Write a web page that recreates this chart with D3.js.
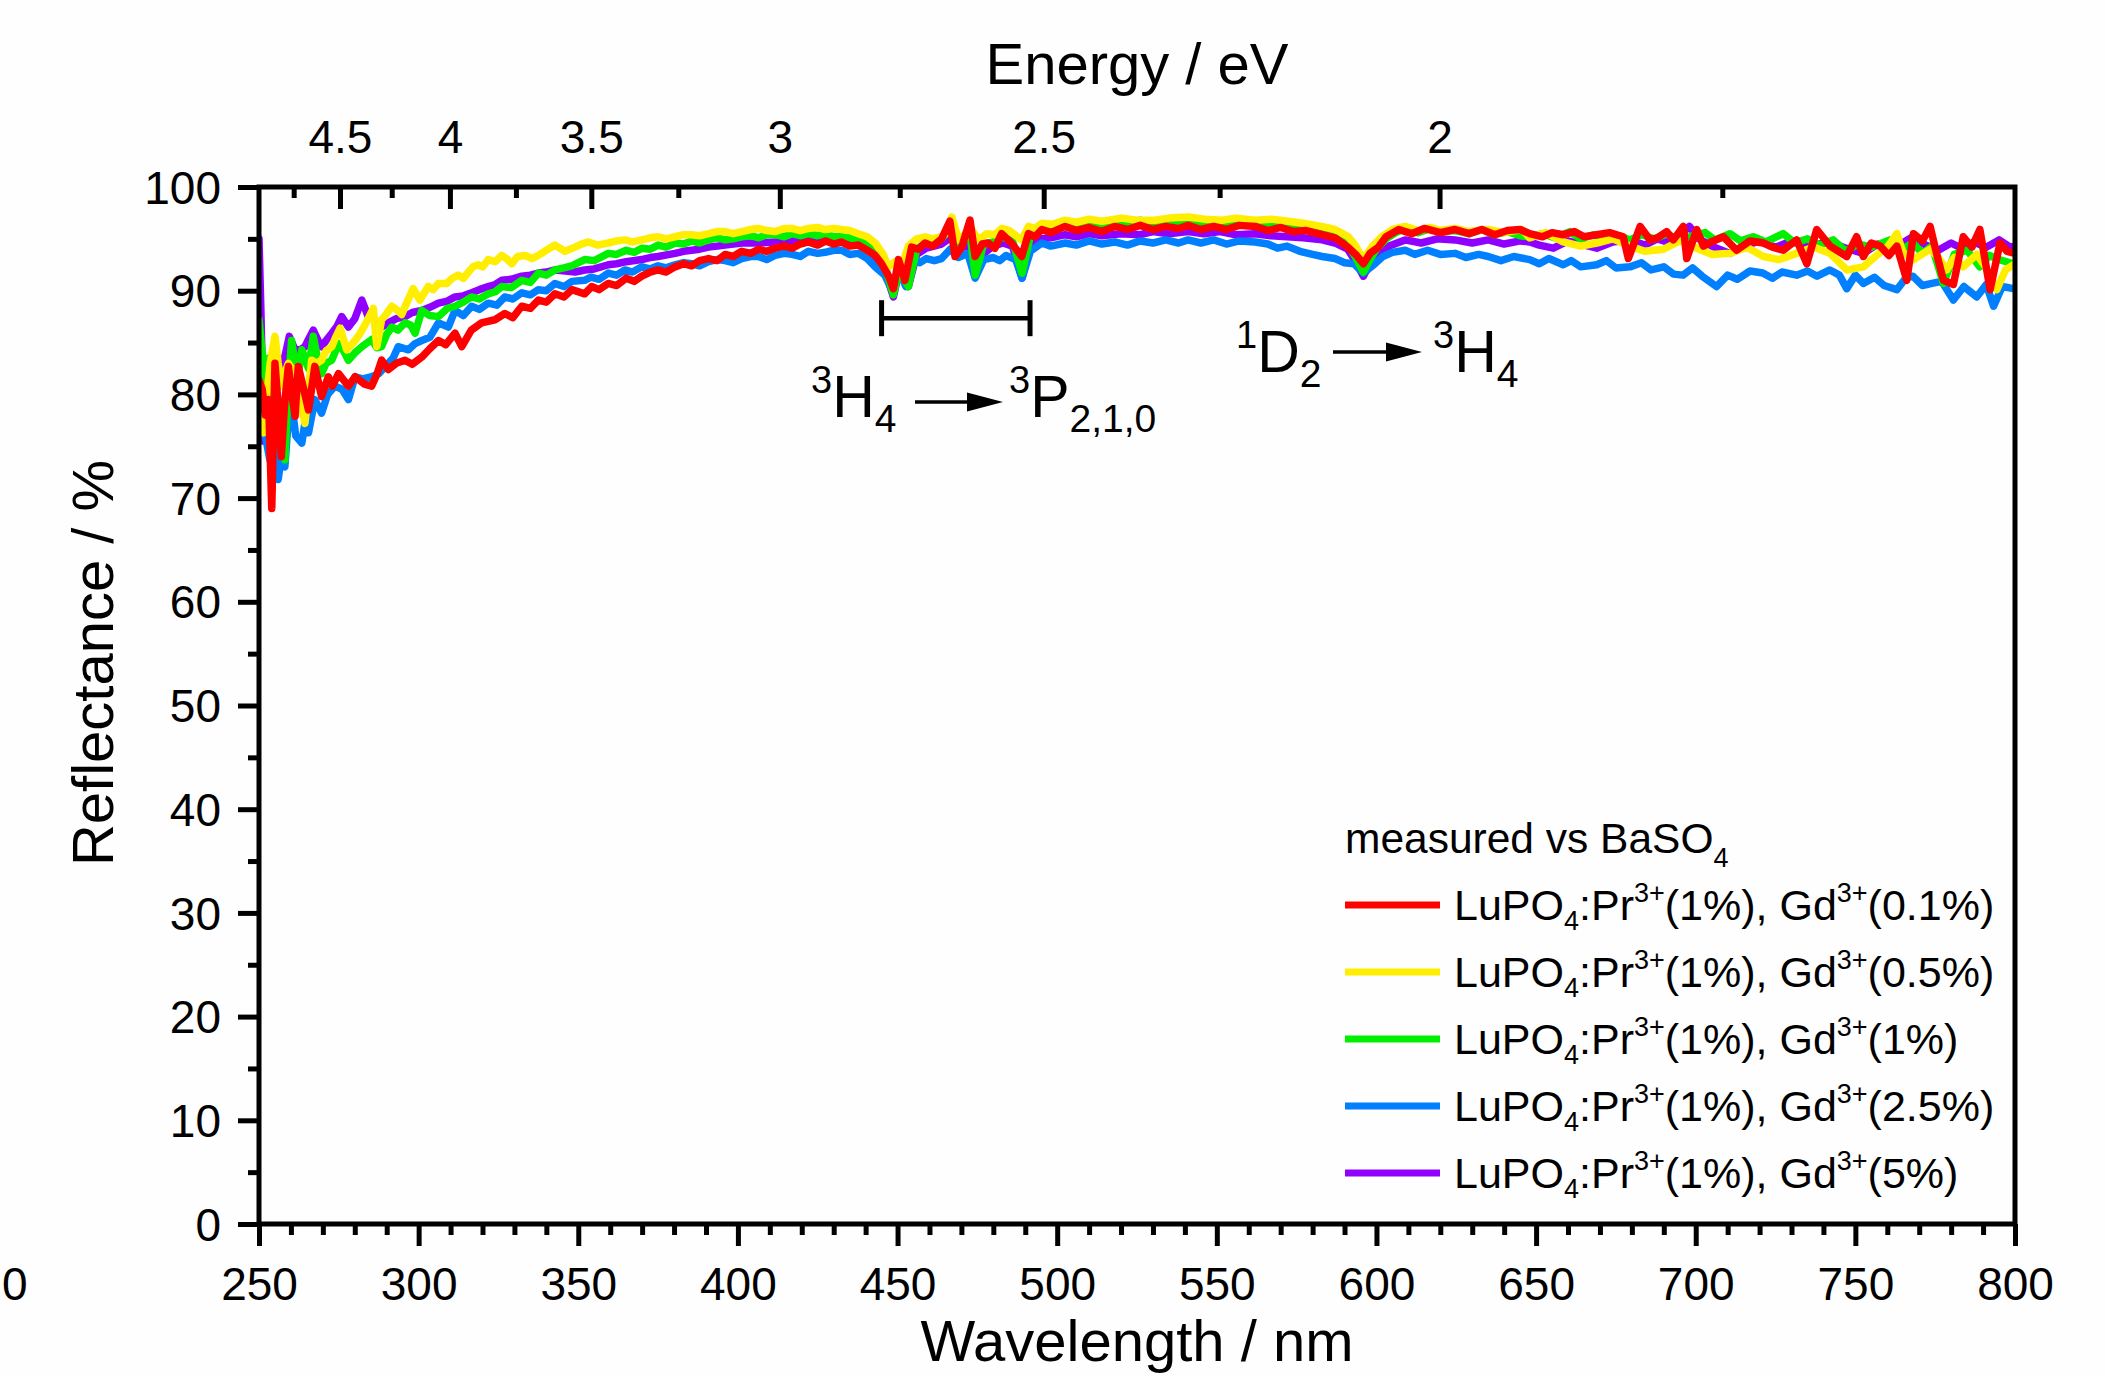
<!DOCTYPE html>
<html lang="en">
<head>
<meta charset="UTF-8">
<title>Reflectance</title>
<script src="https://cdn.jsdelivr.net/npm/d3@7"></script>
<style>
  body { margin: 0; background: #fefefe; }
  svg { display: block; font-family: "Liberation Sans", Arial, sans-serif; }
</style>
</head>
<body>
<script>
// wavelength (nm) / reflectance (%) pairs
const red = [[250,81.4],[251,80.5],[252,78],[253,79.5],[254,69],[255,83],[256,79],[257,74],[258,79],[259.2,82.7],[260.3,80],[261.3,77.9],[262.3,82.7],[264,80.5],[265.5,78.5],[267.5,82.7],[269.6,79.8],[271.7,81.7],[273,80.8],[274.9,82],[278,80.8],[280.1,81.7],[283,81],[285.3,80.8],[287,82],[288.4,83.3],[290.5,82.4],[293,83],[295.7,83.3],[298,82.9],[301,83.6],[303.5,84.4],[306.2,85.2],[308.5,84.8],[311.4,85.9],[313.5,84.6],[316.5,86.2],[319.7,86.9],[323.9,87.2],[327,87.8],[329.5,87.4],[332.3,88.5],[335,88.3],[337.5,89.1],[340,88.9],[342.7,89.7],[345.5,89.4],[348,90.1],[352,89.7],[354.2,90.4],[356.5,90.1],[359.4,90.7],[362,90.5],[365,91.2],[367.5,90.9],[369.9,91.4],[372.5,91.8],[375,92],[377.5,91.8],[380.3,92.3],[383,92.6],[385.5,92.4],[388,92.9],[390.8,93.1],[393.5,92.9],[396,93.5],[398.5,93.3],[401.2,93.8],[404,93.6],[406.5,94],[409,93.8],[411.6,94.1],[414.5,94.3],[417,94.1],[419.5,94.5],[422.1,94.7],[425,94.4],[427.5,94.8],[430,94.5],[432.5,94.7],[435,94.3],[437.7,94.4],[440.5,93.9],[443,93.4],[445,92.6],[447.2,91.4],[448.7,90.2],[450.3,93],[452.3,91],[454.4,94.2],[456.5,94],[458.6,94.6],[461,94.3],[463.8,95],[466.4,96.7],[468,93.3],[470.1,94.2],[472.7,96.8],[474.3,93.3],[476.5,94.5],[478.4,94.6],[480.5,94.1],[482.6,95.5],[485.7,94.6],[488.9,93.3],[491,95.5],[493,95.2],[495.2,95.9],[498,95.6],[502.5,96.2],[506,95.8],[510,96.1],[514,95.7],[518,96.2],[522,95.9],[526,96.3],[530,95.9],[534,96.2],[538,96],[541,96.3],[545,95.9],[549,96.2],[553,95.9],[557,96.3],[562,96.2],[566,95.8],[570,96.1],[574,95.7],[578,95.8],[583,95.4],[587,95.1],[591,94.2],[593.5,93.5],[595.9,92.6],[598,93.6],[600.6,94.2],[603,95.2],[607,95.9],[611,95.5],[615,96],[620,95.6],[624.6,95.9],[629,95.5],[633,95.9],[637,95.4],[641,95.8],[645,95.9],[648,95.5],[652,95.2],[655,95.6],[658.5,95.4],[662,95.7],[665,95.2],[669,95.4],[673,95.6],[677.3,95.2],[678.9,93.1],[682.6,96.2],[685.7,94.9],[688,95.1],[690.9,95.7],[693,94.9],[696.1,96.2],[697.2,93.1],[700.3,95.9],[702.4,94.3],[705.5,94.8],[708.7,95.2],[712.8,93.9],[717,94.8],[721.2,94.6],[724,94.2],[727.4,93.9],[731.6,94.9],[734.8,92.6],[737.9,95.9],[742.1,94.3],[747.3,93.3],[750.4,95.2],[752.5,93.3],[755,94.6],[757.8,94.3],[760.5,93.4],[763,94.3],[766.1,91],[768.2,95.5],[771,94.8],[773.4,96.2],[775.5,93.5],[777.6,91],[780.7,90.6],[783.8,95.2],[786.5,94.2],[789,95.9],[792.2,90.1],[795.3,94.6],[797.5,93.8],[800,93.6]];

const yellow = [[250,77],[251.4,76.3],[252.5,80],[253.5,83],[255,85.6],[256,83],[257.1,80.8],[258,82],[259.2,83],[260.3,82.5],[261.3,82],[262.5,80],[264.4,77.2],[265.5,80.5],[266.5,83.3],[268,83],[269.6,83.3],[271,84.2],[272.8,84.6],[274,85.5],[275.4,86.4],[277.5,84.3],[280.1,85.2],[281.5,85.8],[283.2,86.7],[285.8,88.3],[286.9,84.6],[288.4,87.2],[290,87.8],[291.6,88.5],[293,88.2],[294.7,87.7],[296.5,89],[298.3,90.2],[300.4,89.1],[303,90.4],[304.5,90.1],[306.2,90.7],[308.8,90.7],[310.5,91.2],[312.4,91.5],[314,91.2],[315.6,91.8],[317,92.3],[318.7,92.5],[320,92.3],[321.8,93],[324,92.8],[326,93.4],[327.5,93.1],[329.2,92.6],[331,93.3],[333.3,93.4],[335.5,93.1],[337.5,93.4],[340,93.9],[342.7,94.4],[345.8,93.8],[349,94.2],[351,94.5],[353.2,94.7],[356,94.4],[359.4,94.6],[362,94.8],[364.6,94.9],[367,94.7],[369.9,94.9],[372.5,95.1],[375.1,95.2],[377.5,95],[380.3,95.2],[383,95.4],[385.5,95.4],[388,95.3],[390.8,95.5],[393.5,95.7],[396,95.7],[398.5,95.5],[401.2,95.7],[404,95.9],[406.4,96],[409,95.8],[411.6,95.7],[414.5,96],[416.9,96],[419.5,95.8],[422.1,96],[425,96.1],[427.3,95.9],[430,96],[432.5,95.9],[435,95.8],[437.7,95.5],[440.5,95.2],[443,94.6],[445.5,93.5],[447.1,92.3],[449.2,92.8],[451.3,92.3],[453.4,94.3],[456,95],[458.6,95.2],[461,95],[463.8,95.2],[465.5,95.6],[467,97.1],[469.1,94.9],[471,95.4],[473.2,95.9],[475.3,94.9],[478,95.5],[480.5,95.4],[482.6,96],[485,95.8],[488.9,94.9],[491,96.2],[493,96],[495.2,96.5],[498.5,96.4],[502.5,96.8],[506,96.6],[510,96.9],[514,96.7],[520.2,97],[525,96.8],[530.6,96.8],[535,97],[541.1,97.1],[546,96.9],[551.5,96.8],[556,97],[562,96.8],[567,96.9],[572.4,96.7],[577,96.5],[582.8,96.2],[587,95.9],[591.2,95.2],[593.5,94.3],[595.9,93],[598.5,94.2],[601.6,95.2],[605,95.9],[609,96.2],[613,95.8],[617,96.1],[620,95.8],[624.6,96],[629,95.7],[635,95.9],[640,95.6],[645.5,95.9],[648,95.1],[653,95.6],[658.5,94.7],[664,94.3],[669,94.6],[674,95],[679.4,94.3],[684,93.8],[689.9,94],[695,94.8],[700.3,94.1],[705,93.5],[710.7,93.6],[716,94.2],[721.2,93.3],[726,93],[731.6,93.6],[737,94.2],[742.1,93.6],[747.3,92],[752.5,92.3],[757,93.5],[760,94.2],[763,95.5],[765,93.6],[768.2,93],[773.4,94],[776,93.2],[778.6,92],[781,93.2],[783.8,92.3],[788,93.5],[791,92.2],[794.3,90.1],[797,92],[799.5,92.5]];

const green = [[250,87.2],[251,84],[252,79],[253,83.5],[254,78],[255,80.5],[256,77],[257,79],[258.1,73.7],[259,80],[260.2,85.2],[261.3,83],[262.3,82],[263.4,84.3],[264.4,83.5],[265.5,82.5],[267,85.6],[268.5,83.2],[269.6,82],[271,83],[272.8,83.3],[274.9,84.9],[276.5,84.2],[278,83.3],[280,84],[282.2,84.6],[285.3,85.3],[286.9,84.5],[288.4,84.6],[290,85.8],[291.6,86.5],[293.5,86.2],[295.7,86.9],[297.5,86.7],[298.9,85.9],[301,88.1],[303.5,87.6],[306.2,87.5],[309,88.3],[311.4,88.5],[314,88.9],[316.6,89.4],[319,89.2],[321.8,89.7],[324,89.9],[326,90.4],[329,90.3],[332.3,91],[335,90.8],[337.5,91.7],[340,91.5],[342.7,92],[345.5,92.2],[348,92.4],[352,93],[355,92.9],[359.4,93.6],[362,93.5],[365,93.9],[367.5,93.7],[369.9,94.1],[372.5,94],[375,94.4],[377.5,94.2],[380.3,94.6],[383,94.5],[385.5,94.8],[388,94.6],[390.8,94.9],[393.5,95.1],[396,94.9],[398.5,95],[401.2,95.2],[404,95.3],[406.5,95.1],[409,95.4],[411.6,95.4],[414.5,95.2],[417,95.5],[419.5,95.3],[422.1,95.5],[425,95.3],[427.5,95.5],[430,95.2],[432.5,95.2],[435,95.1],[437.7,94.9],[440.5,94.6],[443,94],[446,92.5],[448.7,89.6],[450.5,92],[453.4,90.4],[456,94],[459,94.7],[461,94.5],[463.8,95],[467,96.2],[469,94],[472.5,96],[474.3,91.5],[477,94.5],[480,94.7],[482.6,95.2],[486,94.8],[489,91.7],[491.6,95.3],[495.2,95.9],[498,95.7],[502.5,96.2],[506,96.1],[510,96.5],[514,96.3],[518,96.6],[522,96.4],[526,96.8],[530,96.5],[534,96.9],[538,96.7],[541,97],[545,96.6],[549,96.8],[553,96.5],[557,96.7],[562,96.5],[566,96.2],[570,96.4],[574,96.1],[578,95.9],[583,95.5],[587,95.3],[591,94.5],[593.5,93.2],[595.9,91.8],[598,93],[600,94],[603,95],[606,95.6],[609,96],[613,95.6],[617,96],[620,95.7],[624.6,95.8],[629,95.5],[633,95.9],[637,95.4],[641,95.7],[645,95.3],[648,95.2],[652,95.5],[656,95.1],[660.6,95.7],[664,95],[668,95.4],[672,94.9],[676,95.3],[679.4,94.9],[683,95.4],[687,95],[691,95.5],[695,94.8],[699,95.3],[703,95.6],[706,94.9],[710.7,95.5],[714,94.8],[718,95.2],[722,94.7],[727.4,95.5],[731,94.6],[735,95],[739,94.4],[743,94.9],[747,93.8],[751,94.5],[755,94.2],[760.8,94.9],[764,93.9],[768,94.6],[771,93.6],[774,94.3],[777.6,90.7],[781,93.5],[785,93.9],[789,92.3],[792,93.4],[795,93],[799.5,92.6]];

const blue = [[250,78],[251,78.2],[252,76],[253.4,73.7],[254.5,76.5],[256,71.8],[257,74],[258.1,73],[259.5,79],[260.5,78.5],[261.5,76],[263.4,75.3],[264.5,77.5],[265.5,76.3],[267.5,79.5],[269.6,78.2],[271.5,80],[273.8,80.8],[276,80.5],[278,79.5],[280.1,81.7],[282.5,81.5],[285.3,81.7],[287.5,82],[290.5,83],[292,83.5],[293.6,84.6],[296.8,84.3],[298.9,84.9],[301,85.2],[303.5,85.5],[306.2,86.9],[309.3,86.5],[311.4,88.1],[314,87.6],[316.6,88.5],[319,88.2],[321.8,88.8],[324.5,88.6],[327,89.4],[329.5,89.2],[332.3,89.8],[335,89.6],[337.5,90.1],[340,90],[342.7,90.7],[345.5,90.4],[348,90.9],[352,91],[354,91.3],[356.5,91.1],[359.4,91.7],[362,91.5],[364.6,92],[367,91.8],[369.9,92.3],[372.5,92.1],[375,92.4],[377.5,92.2],[380.3,92.5],[383,92.7],[385.5,92.6],[388,92.4],[390.8,92.8],[393.5,93],[396,92.9],[398.5,92.7],[401.2,93.1],[404,93.3],[406.4,93.3],[409,93],[411.6,93.4],[414.5,93.6],[417,93.5],[419.5,93.3],[422.1,93.8],[425,93.6],[427.3,93.7],[430,93.9],[432.5,93.9],[435,93.5],[437.7,93.6],[440.5,93.1],[443,92.3],[446,91.5],[448.2,90.1],[450.3,92],[452.6,90.4],[455.3,92.9],[457,92.7],[459,93.1],[461.5,92.9],[463.8,93.1],[466.5,94],[469,93.2],[472,93.6],[474.3,91.2],[477,93],[480,93.2],[482,92.9],[484,93.4],[487,93],[489,91.2],[491.6,93.8],[495.2,94.6],[498,94.3],[502.5,94.6],[506,94.4],[510,94.8],[514,94.5],[518,94.7],[522,94.4],[526,94.8],[530,94.6],[534,94.9],[538,94.6],[541,94.9],[545,94.6],[549,94.9],[553,94.5],[557,94.8],[562,94.7],[566,94.5],[569,94.1],[572,94.3],[576,93.8],[580,93.5],[583,93.3],[587,93.1],[590,92.7],[593,92.6],[595.9,91.7],[599.5,92.6],[602,93.3],[605,93.7],[609,93.9],[612,93.5],[616,93.9],[620,93.5],[624.6,93.6],[628,93.2],[632,93.5],[635,93.3],[639,92.9],[643,93.3],[648,93],[651,92.6],[654,93.1],[658.5,92.5],[661,92.9],[664,92.3],[669,92.5],[672,92.9],[675,92.2],[679.4,92.3],[683,92.7],[686,92],[690,92.3],[693,91.6],[696,91.5],[699,92.2],[702,91.4],[706.5,90.4],[710,91.5],[713,91.1],[717,91.9],[721,91.7],[724,91.2],[727,91.8],[731.6,91.5],[735,91.9],[738,91.4],[742,92],[745,91.5],[747.3,90.2],[750,91.5],[752.5,90.7],[756,91.3],[759,90.5],[763,90.1],[766,91.3],[768,91.4],[771,90.5],[774,90.7],[777,90.9],[780.7,89.1],[784,90.4],[786,89.9],[788,89.4],[791,90.6],[793.3,88.5],[796,90.4],[799.5,90.2]];

const purple = [[250,95],[250.6,88],[251.5,75.5],[252.5,78],[253.5,81],[255,84.5],[256.5,82],[258,83.5],[259.5,85.6],[261,84.5],[262.3,84.2],[264.4,84.6],[265.5,85.3],[267,86.2],[268.5,85.2],[269.6,84.6],[271,85.2],[272.8,85.9],[274.5,86.6],[275.9,87.5],[278,86.5],[280,87.3],[282.2,89.1],[284.2,87.5],[286,87.2],[288.4,86.5],[290.5,86.9],[293,87.3],[295.7,87.5],[298,87.9],[301,88.1],[303.5,88.4],[306.2,88.8],[309,89],[311.4,89.4],[314,89.5],[316.6,89.8],[319,90.1],[321.8,90.4],[324,90.6],[326,91],[329,91.1],[332.3,91.4],[335,91.5],[337.5,91.7],[340,91.8],[342.7,92],[346,91.9],[349,91.8],[352,92],[355,92.1],[359.4,92.5],[362,92.6],[365,92.8],[369.9,93],[372.5,93.2],[375,93.3],[380.3,93.6],[383,93.8],[385.5,93.9],[388,94],[390.8,94.2],[393.5,94.3],[396,94.4],[401.2,94.6],[406,94.6],[411.6,94.7],[416,94.8],[422.1,94.9],[427,94.8],[432.5,94.9],[437.7,94.6],[440.5,94.2],[443,93.3],[446,92],[448.7,89.4],[450.5,92],[453.4,90.4],[456,93.5],[459,94.1],[463.8,94.5],[467,95.2],[469,93.8],[472,94.6],[474.3,91.4],[477,93.6],[480,94.3],[483,94.6],[486,94.3],[489,91.2],[491.6,94.6],[495.2,95],[498,95.1],[502.5,95.4],[506,95.2],[510,95.5],[514,95.3],[520,95.5],[526,95.4],[530,95.7],[535,95.5],[541,95.7],[546,95.5],[551,95.7],[556,95.4],[562,95.5],[567,95.3],[572,95.2],[577,95.1],[583,94.9],[587,94.6],[591,94],[593.5,92.8],[595.9,91.4],[598,92.6],[600,93.5],[604,94.3],[609,94.9],[614,94.6],[619,95],[624.6,94.9],[630,94.6],[635,94.9],[640,94.5],[645,94.8],[648,94.7],[651,94.4],[655.4,94.1],[660,94.8],[664,94.5],[669,94.1],[674,94.7],[679.4,94.9],[684,94.4],[688,95],[692,94.6],[695,95.3],[698,96.2],[701,95],[705,94.3],[710.7,93.6],[715,94.3],[720,94.8],[725,94.2],[730,94.8],[735,94.3],[742,94.7],[747,94.1],[752.5,93.6],[757,94.5],[762,94.1],[768,95.2],[772,94.4],[776,93.9],[780,94.6],[783.8,94],[787,94.7],[791,94.2],[795,94.9],[798.5,94.2],[800,94.3]];

const seriesNames = ["0.1%", "0.5%", "1%", "2.5%", "5%"];
const seriesColors = ["#ff0000", "#ffee00", "#00f000", "#0080ff", "#8f00ff"];
const seriesData = [red, yellow, green, blue, purple];

const xTicks = [250, 300, 350, 400, 450, 500, 550, 600, 650, 700, 750, 800];
const yTicks = [0, 10, 20, 30, 40, 50, 60, 70, 80, 90, 100];
const eTicks = [4.5, 4, 3.5, 3, 2.5, 2];
const eMinor = [4.75, 4.25, 3.75, 3.25, 2.75, 2.25, 1.75];
const hc = 1239.84; // eV nm

const W = 2105, H = 1376;
const pL = 259, pR = 2015, pT = 187, pB = 1224;

const svg = d3.select("body").append("svg")
    .attr("width", W).attr("height", H)
    .style("background", "#fefefe");

const x = d3.scaleLinear().domain([250, 800]).range([pL, pR]);
const y = d3.scaleLinear().domain([0, 100]).range([pB, pT]);

svg.append("clipPath").attr("id", "plot")
  .append("rect").attr("x", pL).attr("y", pT)
  .attr("width", pR - pL).attr("height", pB - pT);

// data lines, red drawn last so it sits on top
const line = d3.line().x(d => x(d[0])).y(d => y(d[1]));
const order = [4, 3, 2, 1, 0];
svg.append("g").attr("clip-path", "url(#plot)")
  .selectAll("path").data(order).join("path")
    .attr("d", i => line(seriesData[i]))
    .attr("fill", "none")
    .attr("stroke", i => seriesColors[i])
    .attr("stroke-width", 7.5)
    .attr("stroke-linejoin", "round")
    .attr("stroke-linecap", "round");

// bottom axis
const gx = svg.append("g").attr("transform", `translate(0,${pB})`)
  .call(d3.axisBottom(x).tickValues(xTicks).tickSize(22).tickFormat(d3.format("d")));
gx.select(".domain").remove();
gx.selectAll("line").attr("stroke", "#000").attr("stroke-width", 5);
gx.selectAll("text").attr("y", 76).attr("dy", 0)
  .attr("font-size", 46).attr("fill", "#000");
gx.attr("font-family", null).attr("font-size", null);
const gxm = svg.append("g").attr("transform", `translate(0,${pB})`)
  .call(d3.axisBottom(x).tickValues(d3.range(260, 800, 10).filter(v => v % 50)).tickSize(11).tickFormat(""));
gxm.select(".domain").remove();
gxm.selectAll("line").attr("stroke", "#000").attr("stroke-width", 5);

// stray label at the far left of the tick row
svg.append("text").attr("x", 2).attr("y", 1300)
  .attr("font-size", 46).text("0");

// left axis
const gy = svg.append("g").attr("transform", `translate(${pL},0)`)
  .call(d3.axisLeft(y).tickValues(yTicks).tickSize(21));
gy.select(".domain").remove();
gy.selectAll("line").attr("stroke", "#000").attr("stroke-width", 5);
gy.selectAll("text").attr("x", -38).attr("dy", "0.35em")
  .attr("font-size", 46).attr("fill", "#000");
gy.attr("font-family", null).attr("font-size", null);
const gym = svg.append("g").attr("transform", `translate(${pL},0)`)
  .call(d3.axisLeft(y).tickValues(d3.range(5, 100, 10)).tickSize(11).tickFormat(""));
gym.select(".domain").remove();
gym.selectAll("line").attr("stroke", "#000").attr("stroke-width", 5);

// top energy axis, ticks pointing into the plot
const ex = e => x(hc / e);
svg.append("g").selectAll("line").data(eTicks.concat(eMinor)).join("line")
  .attr("x1", ex).attr("x2", ex)
  .attr("y1", pT).attr("y2", d => pT + (eTicks.includes(d) ? 22 : 11))
  .attr("stroke", "#000").attr("stroke-width", 5);
svg.append("g").selectAll("text").data(eTicks).join("text")
  .attr("x", ex).attr("y", 153).attr("text-anchor", "middle")
  .attr("font-size", 46).text(d => d);

// frame
svg.append("rect").attr("x", pL).attr("y", pT)
  .attr("width", pR - pL).attr("height", pB - pT)
  .attr("fill", "none").attr("stroke", "#000").attr("stroke-width", 5);

// axis titles
svg.append("text").attr("x", (pL + pR) / 2).attr("y", 84)
  .attr("text-anchor", "middle").attr("font-size", 58).text("Energy / eV");
svg.append("text").attr("x", (pL + pR) / 2).attr("y", 1361)
  .attr("text-anchor", "middle").attr("font-size", 58).text("Wavelength / nm");
svg.append("text").attr("transform", "translate(113,663) rotate(-90)")
  .attr("text-anchor", "middle").attr("font-size", 58).text("Reflectance / %");

// transition annotations
const ann = svg.append("g");
const bx0 = x(445), bx1 = x(491.5), by = y(87.35);
ann.append("line").attr("x1", bx0).attr("x2", bx1).attr("y1", by).attr("y2", by)
  .attr("stroke", "#000").attr("stroke-width", 4.5);
ann.selectAll(".cap").data([bx0, bx1]).join("line")
  .attr("x1", d => d).attr("x2", d => d).attr("y1", by - 18).attr("y2", by + 18)
  .attr("stroke", "#000").attr("stroke-width", 5);

function arrow(x0, x1, yy) {
  ann.append("line").attr("x1", x0).attr("x2", x1 - 30).attr("y1", yy).attr("y2", yy)
    .attr("stroke", "#000").attr("stroke-width", 3.5);
  ann.append("path").attr("d", `M${x1 - 36},${yy - 9.5}L${x1},${yy}L${x1 - 36},${yy + 9.5}Z`)
    .attr("fill", "#000");
}
function term(xx, yy, pre, main, sub) {
  const t = ann.append("text").attr("x", xx).attr("y", yy).attr("font-size", 59);
  t.append("tspan").attr("font-size", 38).attr("dy", -24).text(pre);
  t.append("tspan").attr("dy", 24).text(main);
  t.append("tspan").attr("font-size", 39).attr("dy", 15).text(sub);
}
term(811, 417, "3", "H", "4");
arrow(915, 1003, 402);
term(1009, 417, "3", "P", "2,1,0");
term(1236, 372, "1", "D", "2");
arrow(1333, 1422, 352);
term(1433, 372, "3", "H", "4");

// legend
const lg = svg.append("g");
const hdr = lg.append("text").attr("x", 1345).attr("y", 853).attr("font-size", 42.5);
hdr.append("tspan").text("measured vs BaSO");
hdr.append("tspan").attr("font-size", 27).attr("dy", 14).text("4");

const rows = lg.selectAll(".row").data(seriesNames).join("g")
  .attr("transform", (d, i) => `translate(0,${905 + i * 67})`);
rows.append("line").attr("x1", 1345).attr("x2", 1440)
  .attr("stroke", (d, i) => seriesColors[i]).attr("stroke-width", 7);
const lt = rows.append("text").attr("x", 1454).attr("y", 15).attr("font-size", 43);
lt.append("tspan").text("LuPO");
lt.append("tspan").attr("font-size", 27).attr("dy", 10).text("4");
lt.append("tspan").attr("dy", -10).text(":Pr");
lt.append("tspan").attr("font-size", 27).attr("dy", -18).text("3+");
lt.append("tspan").attr("dy", 18).text("(1%), Gd");
lt.append("tspan").attr("font-size", 27).attr("dy", -18).text("3+");
lt.append("tspan").attr("dy", 18).text(d => "(" + d + ")");
</script>
</body>
</html>
